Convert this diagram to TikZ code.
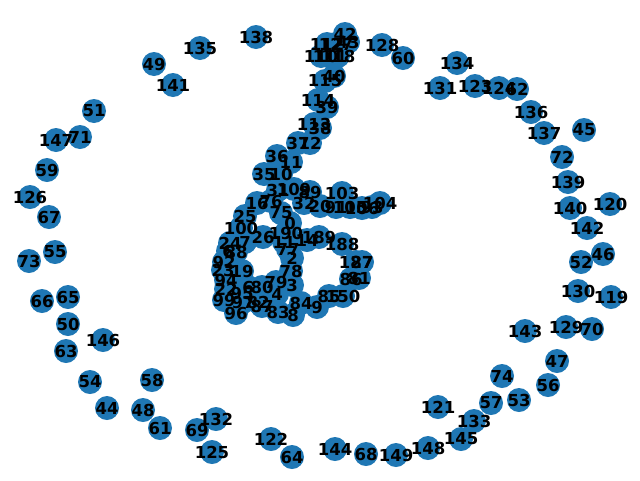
\documentclass[tikz,border=0pt]{standalone}
\usepackage{fontspec}
\setmainfont{DejaVu Sans}
\usepackage{tikz}
\usetikzlibrary{positioning}
\definecolor{nxblue}{HTML}{1F77B4}
\tikzset{
  % --- nodes
  vtx/.style  = {circle, fill=nxblue, draw=none, minimum size=24pt, inner sep=0pt},
  vlbl/.style = {font=\fontsize{16.5}{16.5}\selectfont\bfseries, text=black, inner sep=0pt},
}
% --- the dense core (label/x/y)
\def\corelist{42/345/34,43/348/42,112/327/44,127/336/44,110/321/56,111/330/56,118/338/56,
  40/334/76,115/325/81,114/318/100,39/327/107,113/314/124,38/320/128,37/298/143,12/310/143,
  36/277/156,11/291/162,35/264/174,10/281/174,31/278/190,109/294/189,89/310/192,103/342/193,
  16/257/203,76/271/201,32/304/203,20/320/206,91/336/207,105/350/207,106/362/208,93/372/207,
  104/380/203,75/281/213,25/245/216,0/290/223,100/241/228,26/263/237,190/286/233,11/284/242,
  14/307/240,189/319/237,188/342/244,187/356/262,27/362/262,86/351/279,81/359/278,85/329/296,
  150/343/296,84/301/303,9/317/307,87/262/306,83/278/312,8/293/315,79/276/282,3/292/285,
  4/277/294,78/291/271,2/292/258,77/288/249,6/248/287,80/262/287,82/258/302,95/242/293,
  22/226/289,99/224/300,96/236/313,97/243/302,23/223/270,19/242/271,94/226/280,92/224/262,
  24/230/243,6/228/251,88/236/252,7/245/242}
% --- the outer ring
\def\ringlist{138/256/37,135/200/48,49/154/64,141/173/85,51/94/111,147/56/140,71/80/137,
  59/47/170,126/30/197,67/49/217,73/29/261,55/55/252,66/42/301,65/68/297,50/68/324,
  63/66/351,146/103/340,54/90/382,58/152/380,44/107/408,48/143/410,61/160/428,69/197/430,
  132/216/419,125/212/452,122/271/439,64/292/457,144/335/449,68/366/454,149/396/455,
  148/428/448,145/461/439,133/474/421,121/438/407,57/491/403,53/519/400,74/502/376,
  56/548/385,47/557/361,143/525/331,129/566/327,70/592/329,130/578/291,119/611/297,
  52/581/262,46/603/254,142/587/228,140/570/208,120/610/204,139/568/182,72/562/157,
  45/584/130,137/544/133,136/531/112,62/517/89,124/499/88,123/475/86,131/440/88,
  134/457/63,128/382/45,60/403/58}

\begin{document}
\begin{tikzpicture}[x=1pt,y=-1pt]
  \useasboundingbox (0,0) rectangle (640,480);
  % discs first, labels on top
  \foreach \l/\x/\y [count=\i] in \corelist
    \node[vtx] (c\i) at (\x,\y) {};
  \foreach \l/\x/\y [count=\i] in \ringlist
    \node[vtx] (r\i) at (\x,\y) {};
  \foreach \l/\x/\y [count=\i] in \corelist
    \node[vlbl] (cl\i) at (c\i) {\l};
  \foreach \l/\x/\y [count=\i] in \ringlist
    \node[vlbl] (rl\i) at (r\i) {\l};
\end{tikzpicture}
\end{document}
